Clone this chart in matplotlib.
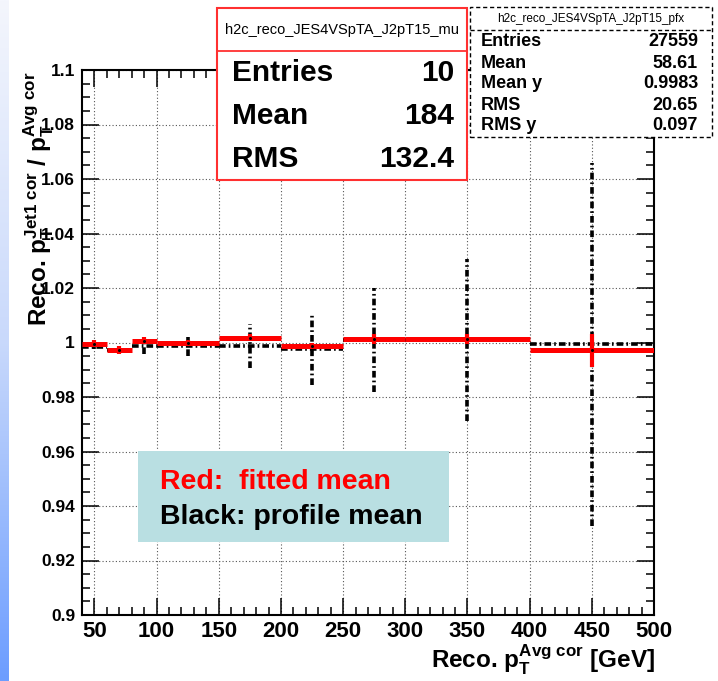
import matplotlib.pyplot as plt
from matplotlib.colors import LinearSegmentedColormap
from matplotlib.lines import Line2D
from matplotlib.patches import Rectangle
from matplotlib.ticker import FuncFormatter, MultipleLocator
import numpy as np

# bins of Reco. pT^Avg cor [GeV]
bin_edges = [40, 60, 80, 100, 150, 200, 250, 300, 400, 500]
bin_centers = [50, 70, 90, 125, 175, 225, 275, 350, 450]

# red: fitted mean
fit_mean = [0.9996, 0.9972, 1.0007, 0.9998, 1.0018, 0.9988, 1.0012, 1.0012, 0.9971]
fit_err = [0.0012, 0.0016, 0.0012, 0.0012, 0.0012, 0.0012, 0.0018, 0.0018, 0.0062]

# black: profile mean
prof_mean = [0.9985, 0.9972, 0.9987, 0.9986, 0.9988, 0.9976, 1.0009, 1.0009, 0.9993]
prof_err = [0.0010, 0.0015, 0.0030, 0.0035, 0.0080, 0.0133, 0.0190, 0.0298, 0.0665]

# stat boxes
mu_title = "h2c_reco_JES4VSpTA_J2pT15_mu"
mu_names = ["Entries", "Mean", "RMS"]
mu_values = ["10", "184", "132.4"]
pfx_title = "h2c_reco_JES4VSpTA_J2pT15_pfx"
pfx_names = ["Entries", "Mean", "Mean y", "RMS", "RMS y"]
pfx_values = ["27559", "58.61", "0.9983", "20.65", "0.097"]

plt.rcParams["font.family"] = ["Liberation Sans", "DejaVu Sans"]
plt.rcParams["font.weight"] = "bold"
plt.rcParams["mathtext.fontset"] = "custom"
plt.rcParams["mathtext.rm"] = "Liberation Sans:bold"
plt.rcParams["mathtext.it"] = "Liberation Sans:bold"
plt.rcParams["mathtext.bf"] = "Liberation Sans:bold"
plt.rcParams["mathtext.default"] = "rm"
plt.rcParams["lines.scale_dashes"] = False

W, H = 718, 681


def fx(px):
    return px / W


def fy(py):
    return 1 - py / H


fig = plt.figure(figsize=(W / 100, H / 100), dpi=100)

# slide background strip on the left
strip = fig.add_axes([0, 0, fx(9), 1])
cmap = LinearSegmentedColormap.from_list("slide", ["#f4f6fd", "#c9d9fb", "#6c9dff"])
strip.imshow(np.linspace(0, 1, 256).reshape(-1, 1), cmap=cmap, aspect="auto")
strip.axis("off")

ax = fig.add_axes([fx(82), fy(615), fx(654) - fx(82), fy(70) - fy(615)])
ax.set_xlim(40, 500)
ax.set_ylim(0.9, 1.1)
ax.xaxis.set_major_locator(MultipleLocator(50))
ax.xaxis.set_minor_locator(MultipleLocator(10))
ax.yaxis.set_major_locator(MultipleLocator(0.02))
ax.yaxis.set_minor_locator(MultipleLocator(0.005))
ax.yaxis.set_major_formatter(FuncFormatter(lambda v, p: f"{round(v, 3):g}"))
ax.xaxis.set_major_formatter(FuncFormatter(lambda v, p: f"{v:g}"))
ax.tick_params(which="both", direction="in", top=True, right=True, width=1.1)
ax.tick_params(which="major", length=12.5)
ax.tick_params(which="minor", length=6)
ax.tick_params(axis="x", labelsize=16, pad=4)
ax.tick_params(axis="y", labelsize=12.5, pad=5)
for s in ax.spines.values():
    s.set_linewidth(1.5)
ax.grid(True, which="major", linestyle=(0, (0.8, 1.6)), color="#555555", linewidth=0.8)
ax.set_axisbelow(True)

dashdot = (0, (4.8, 2.2, 1.2, 2.2))
for i in range(len(bin_centers)):
    lo, hi, c = bin_edges[i], bin_edges[i + 1], bin_centers[i]
    m, e = prof_mean[i], prof_err[i]
    ax.plot([lo, hi], [m, m], color="black", lw=2.6, linestyle=dashdot, zorder=3)
    ax.plot([c, c], [m - e, m + e], color="black", lw=2.6, linestyle=dashdot, zorder=3)

for i in range(len(bin_centers)):
    lo, hi, c = bin_edges[i], bin_edges[i + 1], bin_centers[i]
    m, e = fit_mean[i], fit_err[i]
    ax.plot([lo, hi], [m, m], color="red", lw=3.6, solid_capstyle="butt", zorder=4)
    ax.plot([c, c], [m - e, m + e], color="red", lw=3.0, solid_capstyle="butt", zorder=4)
    ax.plot(c, m, "o", color="black", ms=1.2, zorder=5)

# axis titles
fig.text(fx(655), fy(668), r"Reco. $p_{T}^{Avg\ cor}$ [GeV]", ha="right", va="baseline",
         fontsize=17.5)
fig.text(fx(47), fy(72), r"Reco. $p_{T}^{Jet1\ cor}$ / $p_{T}^{Avg\ cor}$", ha="right",
         va="baseline", rotation=90, rotation_mode="anchor", fontsize=17.5)

# fitted-mean stat box (red)
fig.add_artist(Rectangle((fx(217), fy(180)), fx(467) - fx(217), fy(8) - fy(180),
                         transform=fig.transFigure, facecolor="white", edgecolor="#ff3030",
                         linewidth=1.5))
fig.add_artist(Line2D([fx(217), fx(467)], [fy(51), fy(51)], transform=fig.transFigure,
                      color="#ff3030", linewidth=1.3))
fig.text(fx(342), fy(30), mu_title, ha="center", va="center", fontsize=10.5, fontweight="normal")
for k, (name, val) in enumerate(zip(mu_names, mu_values)):
    yy = [73, 116, 159][k]
    fig.text(fx(232), fy(yy), name, ha="left", va="center", fontsize=21.5)
    fig.text(fx(454), fy(yy), val, ha="right", va="center", fontsize=21.5)

# profile stat box (dashed)
fig.add_artist(Rectangle((fx(470), fy(137)), fx(712) - fx(470), fy(7) - fy(137),
                         transform=fig.transFigure, facecolor="white", edgecolor="black",
                         linewidth=1.0, linestyle=(0, (3, 2))))
fig.add_artist(Line2D([fx(470), fx(712)], [fy(30), fy(30)], transform=fig.transFigure,
                      color="black", linewidth=1.0, linestyle=(0, (3, 2))))
fig.text(fx(591), fy(19), pfx_title, ha="center", va="center", fontsize=8.5, fontweight="normal")
for k, (name, val) in enumerate(zip(pfx_names, pfx_values)):
    yy = 42 + 21 * k
    fig.text(fx(481), fy(yy), name, ha="left", va="center", fontsize=13)
    fig.text(fx(698), fy(yy), val, ha="right", va="center", fontsize=13)

# note box
fig.add_artist(Rectangle((fx(138), fy(542)), fx(449) - fx(138), fy(451) - fy(542),
                         transform=fig.transFigure, facecolor="#b9dfe2", edgecolor="none"))
fig.text(fx(160), fy(482), "Red:  fitted mean", color="red", ha="left", va="center", fontsize=20.5)
fig.text(fx(160), fy(517), "Black: profile mean", color="black", ha="left", va="center",
         fontsize=20.5)

fig.savefig("out.png", dpi=100)
plt.close(fig)
